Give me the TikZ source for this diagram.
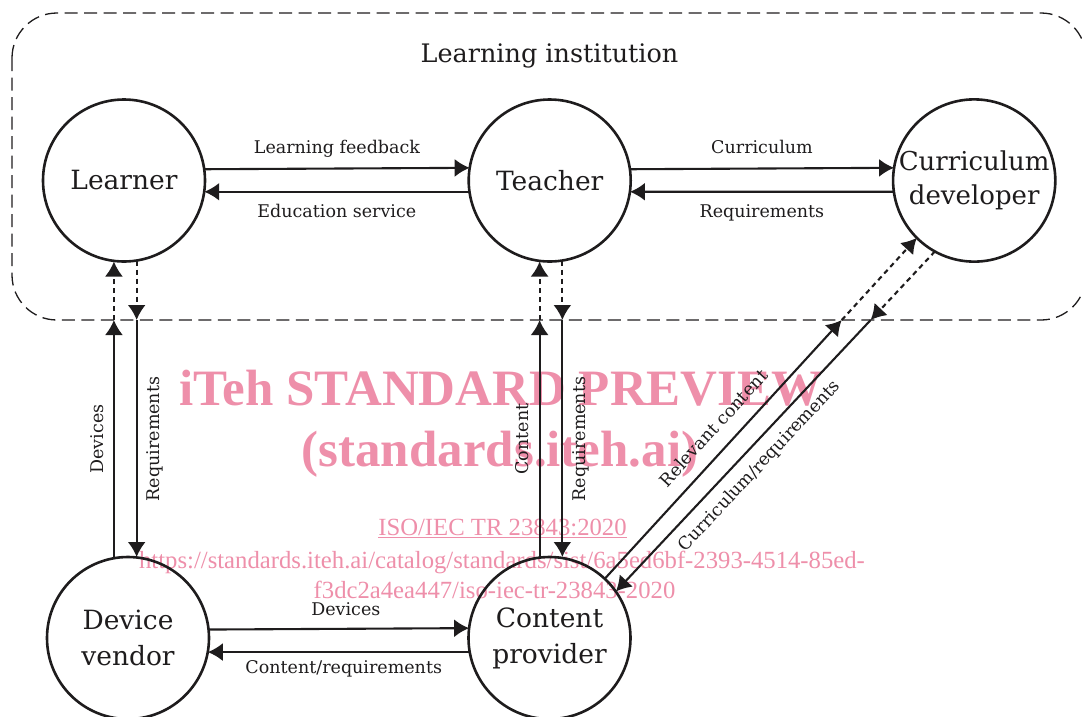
\documentclass[tikz,border=0pt]{standalone}
\usepackage{fontspec}
\setmainfont{DejaVu Serif}
\newfontfamily\wmfont{Liberation Serif}
\usetikzlibrary{arrows.meta,calc}
\definecolor{wmpink}{RGB}{238,143,170}
\definecolor{ink}{RGB}{30,28,29}
\begin{document}
\begin{tikzpicture}[x=1pt,y=-1pt,
  actor/.style={circle, draw=ink, line width=2.6pt, minimum size=162pt, inner sep=0pt, outer sep=0pt, align=center, text=ink, font=\fontsize{26.5}{36}\selectfont},
  flow/.style={draw=ink, line width=2.1pt, -{Latex[length=15pt,width=18pt]}},
  dflow/.style={flow, dash pattern=on 5pt off 4pt},
  lbl/.style={font=\fontsize{17.5}{20}\selectfont, inner sep=0pt, text=ink},
  wm/.style={text=wmpink, inner sep=0pt, anchor=base},
  wmbig/.style={wm, font=\wmfont\bfseries\fontsize{51}{51}\selectfont},
  wmsmall/.style={wm, font=\wmfont\fontsize{24.7}{25}\selectfont},
  boundary/.style={draw=ink, line width=1.3pt, dash pattern=on 13pt off 6.5pt, rounded corners=45pt}
]
\useasboundingbox (0,0) rectangle (1082,716);
\clip (0,0) rectangle (1082,716);

% watermark
\node[wmbig] (wm1) at (501,405) {iTeh STANDARD PREVIEW};
\node[wmbig] (wm2) at (500,466) {(standards.iteh.ai)};
\node[wmsmall] (wm3) at (502.5,535) {ISO/IEC TR 23843:2020};
\draw[wmpink, line width=1.1pt] ($(wm3.base west)+(0,2.5)$) -- ($(wm3.base east)+(0,2.5)$);
\node[wmsmall] (wm4) at (502,568.3) {https://standards.iteh.ai/catalog/standards/sist/6a5ed6bf-2393-4514-85ed-};
\node[wmsmall] (wm5) at (494.5,598.3) {f3dc2a4ea447/iso-iec-tr-23843-2020};

% learning institution boundary
\draw[boundary] (12,13) rectangle (1086,320);
\node[font=\fontsize{25.5}{30}\selectfont, anchor=base, inner sep=0pt, text=ink] (title) at (549.5,62.7) {Learning institution};
\coordinate (bl) at (0,320);
\coordinate (br) at (1082,320);
\coordinate (lblrow) at (0,439);

% actors
\node[actor] (L) at (124,180.5) {Learner};
\node[actor] (T) at (549.7,180.5) {Teacher};
\node[actor, font=\fontsize{26}{34.5}\selectfont] (CD) at (974.2,180.5) {\raisebox{-3.5pt}{Curriculum}\\\raisebox{-3.5pt}{developer}};
\node[actor] (DV) at (128,638) {Device\\vendor};
\node[actor] (CP) at (549.5,638) {Content\\provider};

% horizontal flows
\draw[flow] (L.8.9) -- (T.171.1) node[lbl, midway, above=10pt] {Learning feedback};
\draw[flow] (T.188.2) -- (L.-8.2) node[lbl, midway, below=11.5pt] {Education service};
\draw[flow] (T.8.9) -- (CD.171.1) node[lbl, midway, above=14pt] {Curriculum};
\draw[flow] (CD.188.2) -- (T.-8.2) node[lbl, midway, below=11.5pt] {Requirements};
\draw[flow] (DV.6.8) -- (CP.173.2) node[lbl, midway, above=12.3pt, xshift=7pt] {Devices};
\draw[flow] (CP.190.1) -- (DV.-10.1) node[lbl, midway, below=7pt, xshift=5pt] {Content/requirements};

% device vendor <-> learner
\draw[flow] (DV.100.46) -- (DV.100.46 |- bl);
\draw[dflow] (DV.100.46 |- bl) -- (DV.100.46 |- L.south);
\draw[dflow] (L.279.45) -- (L.279.45 |- bl);
\draw[flow] (L.279.45 |- bl) -- (L.279.45 |- DV.north);
\node[lbl, rotate=90, anchor=south] (lDev) at ($(DV.100.46 |- lblrow)+(-10.3,0)$) {Devices};
\node[lbl, rotate=90, anchor=north] (lReq1) at ($(L.279.45 |- lblrow)+(9.5,0)$) {Requirements};

% content provider <-> teacher
\draw[flow] (CP.97.66) -- (CP.97.66 |- bl);
\draw[dflow] (CP.97.66 |- bl) -- (CP.97.66 |- T.south);
\draw[dflow] (T.279.2) -- (T.279.2 |- bl);
\draw[flow] (T.279.2 |- bl) -- (T.279.2 |- CP.north);
\node[lbl, rotate=90, anchor=south] (lCon) at ($(CP.97.66 |- lblrow)+(-10.5,0)$) {Content};
\node[lbl, rotate=90, anchor=north] (lReq2) at ($(T.279.2 |- lblrow)+(10,0)$) {Requirements};

% content provider <-> curriculum developer
\coordinate (u1) at (CP.47);
\coordinate (u2) at (CD.225.5);
\coordinate (X1) at (intersection of u1--u2 and bl--br);
\draw[flow] (u1) -- (X1) node[lbl, pos=0.526, sloped, above=14pt] {Relevant content};
\draw[dflow] (X1) -- (u2);
\coordinate (v1) at (CD.241.7);
\coordinate (v2) at (CP.35.2);
\coordinate (X2) at (intersection of v1--v2 and bl--br);
\draw[dflow] (v1) -- (X2);
\draw[flow] (X2) -- (v2);
\path (v2) -- (X2) node[lbl, pos=0.51, sloped, below=10.5pt] {Curriculum/requirements};
\end{tikzpicture}
\end{document}
